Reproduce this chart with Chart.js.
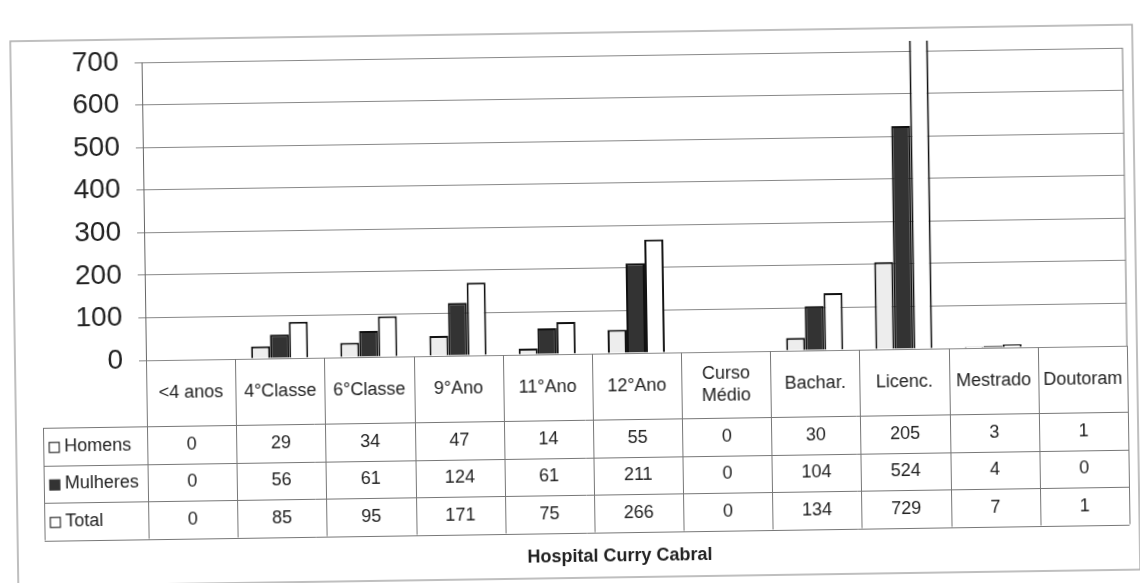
<!DOCTYPE html>
<html>
<head>
<meta charset="utf-8">
<script src="https://cdn.jsdelivr.net/npm/chart.js@4/dist/chart.umd.min.js"></script>
<style>
  html, body { margin: 0; padding: 0; background: #fff; overflow: hidden; }
  #wrap { width: 1140px; height: 583px; transform: rotate(-0.85deg); transform-origin: 570px 291px; }
</style>
</head>
<body>
<div id="wrap"><canvas id="chart" width="1140" height="583"></canvas></div>
<script>
// Data
var categories = ['<4 anos', '4°Classe', '6°Classe', '9°Ano', '11°Ano', '12°Ano', ['Curso', 'Médio'], 'Bachar.', 'Licenc.', 'Mestrado', 'Doutoram'];
var homens = [0, 29, 34, 47, 14, 55, 0, 30, 205, 3, 1];
var mulheres = [0, 56, 61, 124, 61, 211, 0, 104, 524, 4, 0];
var total = [0, 85, 95, 171, 75, 266, 0, 134, 729, 7, 1];
var yTicks = [0, 100, 200, 300, 400, 500, 600, 700];
var chartTitle = 'Hospital Curry Cabral';

var FONT = '"Liberation Sans", Arial, sans-serif';
var TEXT = '#222';
var LINE = '#777';

// table under the plot (data table like in the spreadsheet chart)
var tablePlugin = {
    id: 'dataTable',
    beforeDraw: function(chart) {
        var ctx = chart.ctx;
        ctx.save();
        ctx.fillStyle = '#fff';
        ctx.fillRect(0, 0, chart.width, chart.height);
        ctx.strokeStyle = '#aaa';
        ctx.lineWidth = 1.5;
        ctx.strokeRect(14, 33, 1122, 545);
        ctx.restore();
    },
    afterDraw: function(chart) {
        var ctx = chart.ctx;
        var area = chart.chartArea;
        var xs = chart.scales.x;
        var colW = xs.getPixelForValue(1) - xs.getPixelForValue(0);
        var headBottom = 420;
        var rowH = 37.5;
        var legendLeft = 41;
        var rows = [
            { name: 'Homens', values: homens, fill: '#fff' },
            { name: 'Mulheres', values: mulheres, fill: '#333' },
            { name: 'Total', values: total, fill: '#fff' }
        ];
        var tableBottom = headBottom + rows.length * rowH;

        ctx.save();
        ctx.strokeStyle = LINE;
        ctx.lineWidth = 1;

        // right edge of the plot
        ctx.beginPath();
        ctx.moveTo(area.right, area.top);
        ctx.lineTo(area.right, area.bottom);
        ctx.stroke();

        // vertical column lines
        for (var i = 0; i <= categories.length; i++) {
            var xb = Math.round(xs.getPixelForValue(0) - colW / 2 + i * colW) + 0.5;
            ctx.beginPath();
            ctx.moveTo(xb, area.bottom);
            ctx.lineTo(xb, tableBottom);
            ctx.stroke();
        }
        // legend column left edge
        ctx.beginPath();
        ctx.moveTo(legendLeft + 0.5, headBottom);
        ctx.lineTo(legendLeft + 0.5, tableBottom);
        ctx.stroke();
        // horizontal row lines
        for (var r = 0; r <= rows.length; r++) {
            var yl = Math.round(headBottom + r * rowH) + 0.5;
            ctx.beginPath();
            ctx.moveTo(legendLeft, yl);
            ctx.lineTo(area.right, yl);
            ctx.stroke();
        }

        ctx.fillStyle = TEXT;
        ctx.textAlign = 'center';
        ctx.textBaseline = 'middle';
        ctx.font = '18px ' + FONT;

        // header labels
        var headMid = (area.bottom + headBottom) / 2;
        categories.forEach(function(c, i) {
            var x = xs.getPixelForValue(i);
            if (Array.isArray(c)) {
                ctx.fillText(c[0], x, headMid - 11);
                ctx.fillText(c[1], x, headMid + 11);
            } else {
                ctx.fillText(c, x, headMid);
            }
        });

        // rows
        rows.forEach(function(row, r) {
            var yMid = headBottom + r * rowH + rowH / 2;
            ctx.fillStyle = row.fill;
            ctx.fillRect(47, yMid - 4, 10, 10);
            ctx.strokeStyle = '#333';
            ctx.lineWidth = 1.2;
            ctx.strokeRect(47, yMid - 4, 10, 10);
            ctx.fillStyle = TEXT;
            ctx.textAlign = 'left';
            ctx.fillText(row.name, 62, yMid);
            ctx.textAlign = 'center';
            row.values.forEach(function(v, i) {
                ctx.fillText(String(v), xs.getPixelForValue(i), yMid);
            });
        });

        // title
        ctx.font = 'bold 18px ' + FONT;
        ctx.fillText(chartTitle, 616, 557);
        ctx.restore();
    }
};

var ctx = document.getElementById('chart').getContext('2d');
new Chart(ctx, {
    type: 'bar',
    data: {
        labels: categories,
        datasets: [
            { label: 'Homens', data: homens, backgroundColor: '#ededed' },
            { label: 'Mulheres', data: mulheres, backgroundColor: '#333333' },
            { label: 'Total', data: total, backgroundColor: '#ffffff' }
        ]
    },
    options: {
        responsive: false,
        animation: false,
        devicePixelRatio: 1,
        layout: { padding: { left: 0, top: 56, right: 14, bottom: 229 } },
        datasets: {
            bar: {
                borderColor: '#111',
                borderWidth: 2,
                categoryPercentage: 0.64,
                barPercentage: 1.0,
                clip: { left: false, right: false, bottom: false, top: 10 }
            }
        },
        plugins: {
            legend: { display: false },
            tooltip: { enabled: false },
            title: { display: false }
        },
        scales: {
            x: { display: false },
            y: {
                min: 0,
                max: 700,
                afterFit: function(scale) { scale.width = 145; },
                afterBuildTicks: function(scale) {
                    scale.ticks = yTicks.map(function(v) { return { value: v }; });
                },
                ticks: {
                    font: { family: FONT, size: 28 },
                    color: TEXT,
                    padding: 16
                },
                grid: { color: '#888', lineWidth: 1, tickLength: 7 },
                border: { display: true, color: '#666', width: 1 }
            }
        }
    },
    plugins: [tablePlugin]
});
</script>
</body>
</html>
